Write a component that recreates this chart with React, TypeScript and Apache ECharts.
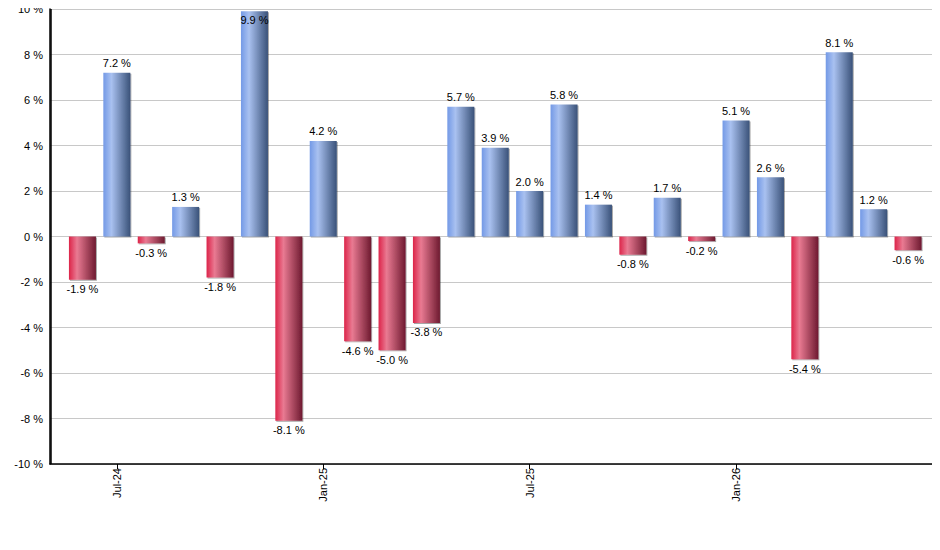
import React, { useEffect, useRef } from "react";
import * as echarts from "echarts";

const months = [
  "Jun-24", "Jul-24", "Aug-24", "Sep-24", "Oct-24", "Nov-24", "Dec-24",
  "Jan-25", "Feb-25", "Mar-25", "Apr-25", "May-25", "Jun-25",
  "Jul-25", "Aug-25", "Sep-25", "Oct-25", "Nov-25", "Dec-25",
  "Jan-26", "Feb-26", "Mar-26", "Apr-26", "May-26", "Jun-26",
];
const returns = [
  -1.9, 7.2, -0.3, 1.3, -1.8, 9.9, -8.1, 4.2, -4.6, -5.0, -3.8, 5.7, 3.9,
  2.0, 5.8, 1.4, -0.8, 1.7, -0.2, 5.1, 2.6, -5.4, 8.1, 1.2, -0.6,
];
const labeledMonths = ["Jul-24", "Jan-25", "Jul-25", "Jan-26"];
const yTicks = [-10, -8, -6, -4, -2, 0, 2, 4, 6, 8, 10];

const X_MIN = -0.943;
const X_MAX = 24.9;

const blueGrad = new echarts.graphic.LinearGradient(0, 0, 1, 0, [
  { offset: 0, color: "#7399e6" },
  { offset: 0.3, color: "#a9c1f0" },
  { offset: 1, color: "#3a5279" },
]);
const redGrad = new echarts.graphic.LinearGradient(0, 0, 1, 0, [
  { offset: 0, color: "#dc2449" },
  { offset: 0.3, color: "#e97a92" },
  { offset: 1, color: "#6e1a30" },
]);

export default function App() {
  const ref = useRef<HTMLDivElement>(null);
  useEffect(() => {
    if (!ref.current) return;
    const chart = echarts.init(ref.current, null, { renderer: "svg" });
    const labelIdx = labeledMonths.map((m) => months.indexOf(m));
    const data = returns.map((v, i) => ({
      value: [i, v],
      itemStyle: { color: v >= 0 ? blueGrad : redGrad },
      label: {
        position: v >= 9 ? "insideTop" : v >= 0 ? "top" : "bottom",
        distance: v >= 9 ? 3 : 4,
      },
    }));
    chart.setOption({
      animation: false,
      grid: { left: 50, right: 1, top: 9, bottom: 86 },
      xAxis: {
        type: "value",
        min: X_MIN,
        max: X_MAX,
        position: "bottom",
        splitLine: { show: false },
        axisLine: { show: true, onZero: false, lineStyle: { color: "#000", width: 1.5 } },
        axisTick: {
          show: true,
          length: 5,
          lineStyle: { color: "#000" },
          customValues: labelIdx,
        },
        axisLabel: {
          rotate: 90,
          fontFamily: "Liberation Sans, Arial, sans-serif",
          fontSize: 11,
          color: "#000",
          margin: 4,
          customValues: labelIdx,
          formatter: (v: number) => months[Math.round(v)] ?? "",
        },
      },
      yAxis: {
        type: "value",
        min: -10,
        max: 10,
        interval: 2,
        position: "left",
        axisLine: { show: true, onZero: false, lineStyle: { color: "#000", width: 1.5 } },
        axisTick: { show: false },
        splitLine: { show: true, lineStyle: { color: "#c8c8c8", width: 1 } },
        axisLabel: {
          fontFamily: "Liberation Sans, Arial, sans-serif",
          fontSize: 11,
          color: "#000",
          margin: 7,
          customValues: yTicks,
          formatter: (v: number) => `${v} %`,
        },
      },
      series: [
        {
          type: "bar",
          barWidth: 27,
          data,
          itemStyle: {
            shadowColor: "rgba(0,0,0,0.35)",
            shadowOffsetX: 1,
            shadowOffsetY: 1,
            shadowBlur: 1,
          },
          label: {
            show: true,
            fontFamily: "Liberation Sans, Arial, sans-serif",
            fontSize: 11,
            color: "#000",
            formatter: (p: any) => `${p.value[1].toFixed(1)} %`,
          },
          markLine: {
            silent: true,
            symbol: "none",
            label: { show: false },
            lineStyle: { color: "#000", width: 1.5, type: "solid" },
            data: [{ xAxis: X_MIN + 0.02 }],
          },
        },
      ],
    });
    return () => chart.dispose();
  }, []);
  return <div ref={ref} style={{ width: 940, height: 550, margin: -8 }} />;
}
